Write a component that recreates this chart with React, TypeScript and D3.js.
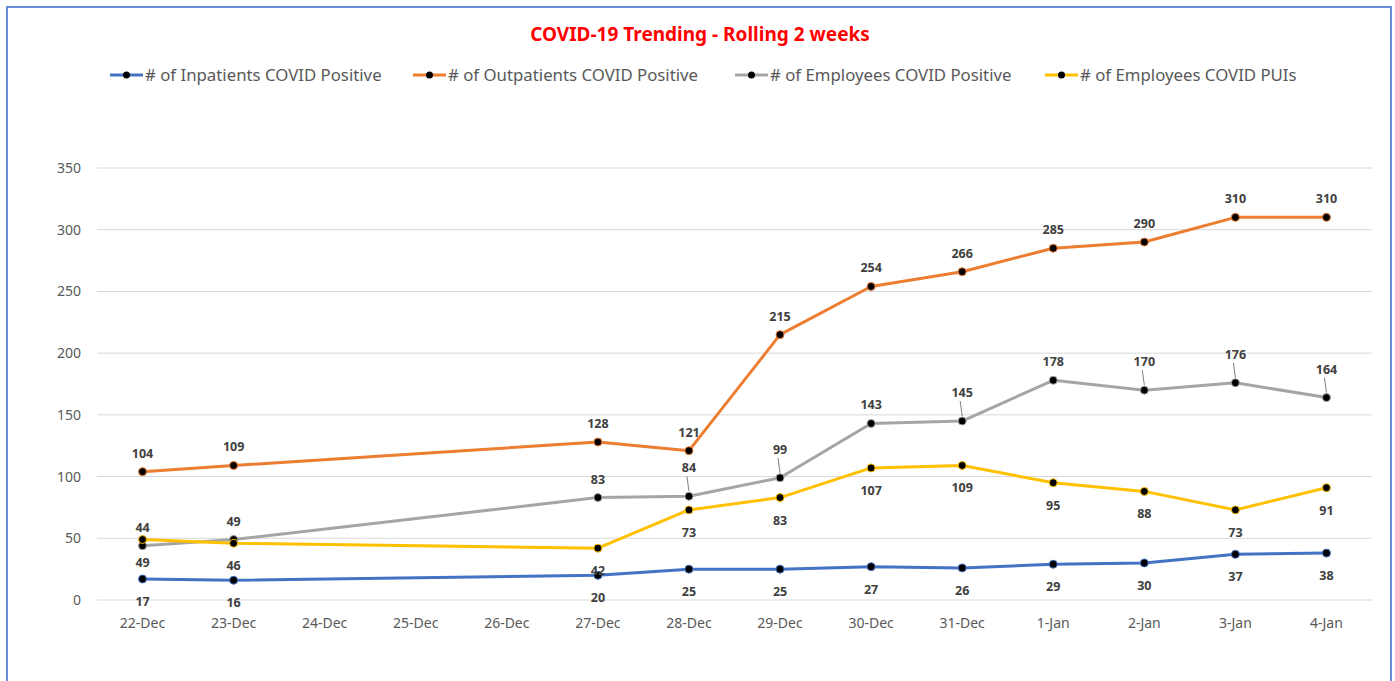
import React, { useEffect, useRef } from "react";
import * as d3 from "d3";

const categories = [
  "22-Dec", "23-Dec", "24-Dec", "25-Dec", "26-Dec", "27-Dec", "28-Dec",
  "29-Dec", "30-Dec", "31-Dec", "1-Jan", "2-Jan", "3-Jan", "4-Jan",
];
const inpatients = [17, 16, null, null, null, 20, 25, 25, 27, 26, 29, 30, 37, 38];
const outpatients = [104, 109, null, null, null, 128, 121, 215, 254, 266, 285, 290, 310, 310];
const employeesPositive = [44, 49, null, null, null, 83, 84, 99, 143, 145, 178, 170, 176, 164];
const employeesPUIs = [49, 46, null, null, null, 42, 73, 83, 107, 109, 95, 88, 73, 91];
const yTicks = [0, 50, 100, 150, 200, 250, 300, 350];

// gray labels that sit higher with a small leader line
const leaderDays = ["28-Dec", "29-Dec", "31-Dec", "2-Jan", "3-Jan", "4-Jan"];

const FONT = "'Noto Sans', 'Open Sans', sans-serif";

export default function App() {
  const ref = useRef<SVGSVGElement>(null);

  useEffect(() => {
    const width = 1395;
    const height = 681;
    const margin = { top: 168, left: 97, bottom: 81, right: 23 };

    const svg = d3.select(ref.current);
    svg.selectAll("*").remove();

    svg.append("rect")
      .attr("x", 0).attr("y", 0).attr("width", width).attr("height", height)
      .attr("fill", "#ffffff");
    svg.append("rect")
      .attr("x", 7).attr("y", 7).attr("width", 1384).attr("height", 700)
      .attr("fill", "none").attr("stroke", "#6a8fd6").attr("stroke-width", 2);

    const x = d3.scaleBand()
      .domain(categories)
      .range([margin.left, width - margin.right]);
    const y = d3.scaleLinear()
      .domain([0, 350])
      .range([height - margin.bottom, margin.top]);
    const cx = (d: string) => (x(d) as number) + x.bandwidth() / 2;

    // gridlines
    svg.append("g")
      .selectAll("line")
      .data(yTicks)
      .join("line")
      .attr("x1", margin.left).attr("x2", width - margin.right)
      .attr("y1", (d) => y(d)).attr("y2", (d) => y(d))
      .attr("stroke", "#d9d9d9").attr("stroke-width", 1);

    // y axis labels
    svg.append("g")
      .selectAll("text")
      .data(yTicks)
      .join("text")
      .attr("x", 81).attr("y", (d) => y(d) + 5)
      .attr("text-anchor", "end")
      .attr("font-family", FONT).attr("font-size", 14)
      .attr("fill", "#595959")
      .text((d) => d);

    // x axis labels
    svg.append("g")
      .selectAll("text")
      .data(categories)
      .join("text")
      .attr("x", (d) => cx(d)).attr("y", 628)
      .attr("text-anchor", "middle")
      .attr("font-family", FONT).attr("font-size", 14)
      .attr("fill", "#595959")
      .text((d) => d);

    const series = [
      { name: "# of Inpatients COVID Positive", values: inpatients, color: "#4472C4", dy: 27 },
      { name: "# of Outpatients COVID Positive", values: outpatients, color: "#ED7D31", dy: -14 },
      { name: "# of Employees COVID Positive", values: employeesPositive, color: "#A5A5A5", dy: -14 },
      { name: "# of Employees COVID PUIs", values: employeesPUIs, color: "#FFC000", dy: 27 },
    ];

    const line = d3.line<{ c: string; v: number }>()
      .x((d) => cx(d.c))
      .y((d) => y(d.v));

    series.forEach((s) => {
      const pts = categories
        .map((c, i) => ({ c, v: s.values[i] as number | null }))
        .filter((d) => d.v != null) as { c: string; v: number }[];

      svg.append("path")
        .datum(pts)
        .attr("d", line)
        .attr("fill", "none")
        .attr("stroke", s.color)
        .attr("stroke-width", 3)
        .attr("stroke-linejoin", "round");

      svg.append("g")
        .selectAll("circle")
        .data(pts)
        .join("circle")
        .attr("cx", (d) => cx(d.c)).attr("cy", (d) => y(d.v))
        .attr("r", 4)
        .attr("fill", "#000")
        .attr("stroke", s.color).attr("stroke-width", 1);
    });

    // data labels
    series.forEach((s, si) => {
      const pts = categories
        .map((c, i) => ({ c, v: s.values[i] as number | null }))
        .filter((d) => d.v != null) as { c: string; v: number }[];
      const g = svg.append("g");
      pts.forEach((d) => {
        let dy = s.dy;
        const isLeader = si === 2 && leaderDays.includes(d.c);
        if (isLeader) dy = -24;
        if (isLeader) {
          g.append("line")
            .attr("x1", cx(d.c) - 2).attr("y1", y(d.v) + dy + 4)
            .attr("x2", cx(d.c)).attr("y2", y(d.v) - 5)
            .attr("stroke", "#7f7f7f").attr("stroke-width", 1);
        }
        g.append("text")
          .attr("x", cx(d.c)).attr("y", y(d.v) + dy)
          .attr("text-anchor", "middle")
          .attr("font-family", FONT).attr("font-size", 12.5)
          .attr("font-weight", "bold")
          .attr("fill", "#404040")
          .text(d.v);
      });
    });

    // title
    svg.append("text")
      .attr("x", 700).attr("y", 41)
      .attr("text-anchor", "middle")
      .attr("font-family", FONT).attr("font-size", 19)
      .attr("font-weight", "bold")
      .attr("fill", "#FF0000")
      .text("COVID-19 Trending - Rolling 2 weeks");

    // legend
    const legendX = [110, 413, 735, 1045];
    const lg = svg.append("g");
    series.forEach((s, i) => {
      const lx = legendX[i];
      lg.append("line")
        .attr("x1", lx).attr("x2", lx + 33)
        .attr("y1", 75).attr("y2", 75)
        .attr("stroke", s.color).attr("stroke-width", 3);
      lg.append("circle")
        .attr("cx", lx + 16.5).attr("cy", 75).attr("r", 3.5)
        .attr("fill", "#000");
      lg.append("text")
        .attr("x", lx + 35).attr("y", 81)
        .attr("font-family", FONT).attr("font-size", 16.8)
        .attr("fill", "#595959")
        .text(s.name);
    });
  }, []);

  return (
    <svg
      ref={ref}
      width={1395}
      height={681}
      style={{ position: "absolute", left: 0, top: 0, display: "block" }}
    />
  );
}
